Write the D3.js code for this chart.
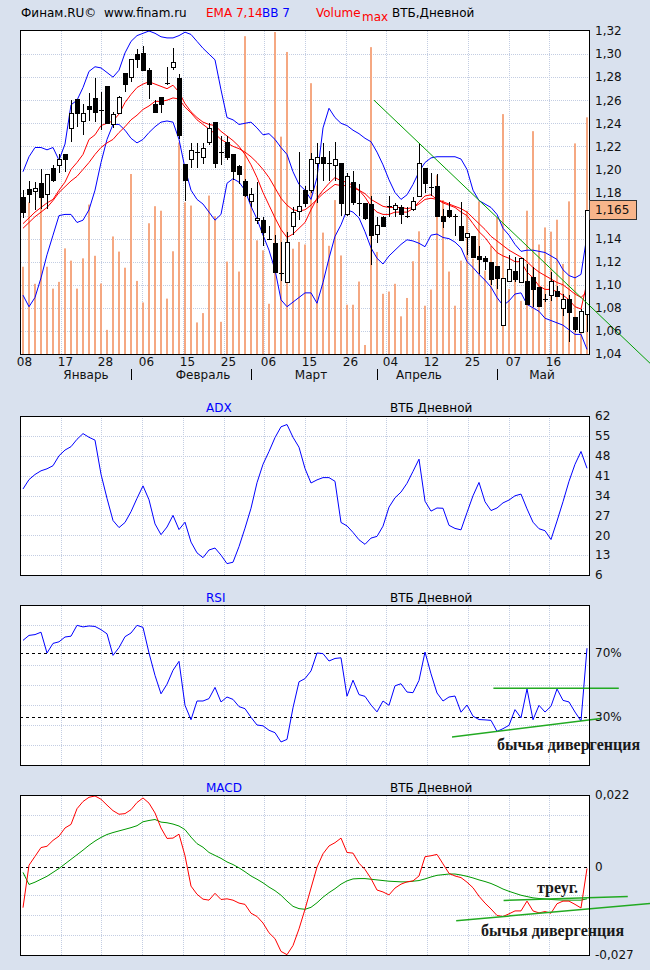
<!DOCTYPE html>
<html>
<head>
<meta charset="utf-8">
<script src="https://cdn.jsdelivr.net/npm/d3@7"></script>
<style>
	body { margin: 0; background: #d9e1ee; }
	svg { display: block; font-family: 'DejaVu Sans', Verdana, sans-serif; font-size: 12px; }
	.note { font-family: 'Liberation Serif', 'Times New Roman', serif; font-weight: bold; font-size: 16px; fill: #1a1a1a; }
</style>
</head>
<body>
<svg id="chart" width="650" height="970"></svg>
<script>

var opens = [ 1.176, 1.183, 1.181, 1.188, 1.179, 1.201, 1.204, 1.213, 1.236, 1.261, 1.242, 1.255, 1.262, 1.2525, 1.272, 1.239, 1.249, 1.284, 1.280, 1.300, 1.301, 1.286, 1.257, 1.263, 1.274, 1.289, 1.279, 1.205, 1.209, 1.2145, 1.211, 1.224, 1.241, 1.2145, 1.224, 1.213, 1.203, 1.190, 1.173, 1.156, 1.156, 1.1405, 1.136, 1.1115, 1.102, 1.151, 1.164, 1.182, 1.182, 1.206, 1.211, 1.2055, 1.204, 1.206, 1.161, 1.189, 1.171, 1.171, 1.170, 1.144, 1.159, 1.1685, 1.166, 1.167, 1.1605, 1.166, 1.177, 1.201, 1.1855, 1.186, 1.160, 1.165, 1.160, 1.151, 1.141, 1.142, 1.125, 1.1235, 1.120, 1.116, 1.065, 1.103, 1.112, 1.102, 1.103, 1.107, 1.098, 1.0875, 1.091, 1.095, 1.080, 1.0875, 1.072, 1.059, 1.075 ];
var highs = [ 1.182, 1.190, 1.189, 1.200, 1.196, 1.204, 1.213, 1.213, 1.260, 1.261, 1.257, 1.266, 1.279, 1.267, 1.272, 1.250, 1.264, 1.284, 1.296, 1.304, 1.307, 1.288, 1.260, 1.263, 1.289, 1.305, 1.283, 1.205, 1.223, 1.223, 1.223, 1.240, 1.241, 1.229, 1.229, 1.213, 1.204, 1.192, 1.184, 1.189, 1.159, 1.151, 1.143, 1.137, 1.146, 1.167, 1.215, 1.186, 1.214, 1.223, 1.223, 1.216, 1.224, 1.206, 1.197, 1.199, 1.187, 1.171, 1.177, 1.159, 1.160, 1.177, 1.171, 1.169, 1.167, 1.176, 1.223, 1.201, 1.197, 1.196, 1.166, 1.172, 1.161, 1.172, 1.145, 1.142, 1.134, 1.125, 1.120, 1.116, 1.106, 1.126, 1.124, 1.123, 1.118, 1.115, 1.098, 1.092, 1.111, 1.099, 1.092, 1.091, 1.072, 1.079, 1.165 ];
var lows = [ 1.158, 1.171, 1.165, 1.166, 1.166, 1.189, 1.197, 1.198, 1.224, 1.237, 1.230, 1.242, 1.241, 1.234, 1.239, 1.236, 1.248, 1.267, 1.276, 1.288, 1.286, 1.261, 1.249, 1.249, 1.273, 1.286, 1.226, 1.173, 1.201, 1.201, 1.205, 1.221, 1.201, 1.204, 1.208, 1.191, 1.187, 1.176, 1.167, 1.153, 1.134, 1.139, 1.111, 1.103, 1.102, 1.143, 1.156, 1.167, 1.180, 1.171, 1.190, 1.190, 1.190, 1.160, 1.160, 1.169, 1.160, 1.156, 1.117, 1.136, 1.150, 1.159, 1.159, 1.153, 1.158, 1.164, 1.177, 1.180, 1.177, 1.159, 1.149, 1.158, 1.142, 1.139, 1.126, 1.124, 1.109, 1.113, 1.100, 1.096, 1.065, 1.103, 1.102, 1.102, 1.083, 1.081, 1.081, 1.085, 1.086, 1.089, 1.073, 1.050, 1.059, 1.059, 1.059 ];
var closes = [ 1.163, 1.179, 1.184, 1.176, 1.196, 1.191, 1.209, 1.209, 1.249, 1.249, 1.249, 1.252, 1.250, 1.2515, 1.240, 1.248, 1.263, 1.274, 1.296, 1.296, 1.286, 1.274, 1.250, 1.257, 1.2745, 1.293, 1.230, 1.191, 1.217, 1.215, 1.219, 1.236, 1.206, 1.215, 1.211, 1.199, 1.196, 1.178, 1.179, 1.158, 1.146, 1.1395, 1.111, 1.1105, 1.137, 1.163, 1.168, 1.171, 1.209, 1.211, 1.206, 1.2055, 1.209, 1.171, 1.194, 1.172, 1.1705, 1.158, 1.143, 1.152, 1.151, 1.168, 1.169, 1.161, 1.1595, 1.173, 1.206, 1.188, 1.1845, 1.160, 1.155, 1.160, 1.1595, 1.139, 1.145, 1.124, 1.122, 1.1205, 1.105, 1.106, 1.106, 1.114, 1.105, 1.123, 1.083, 1.096, 1.082, 1.0875, 1.103, 1.0905, 1.0875, 1.076, 1.062, 1.077, 1.165 ];
var volumes = [ 27.1, 47.1, 21.8, 48.7, 27.1, 20.3, 22.4, 32.8, 29.0, 20.3, 29.7, 46.4, 30.5, 21.9, 7.5, 36.5, 31.8, 26.8, 55.9, 22.7, 16.0, 40.6, 45.9, 44.5, 17.2, 31.9, 65.7, 47.1, 46.1, 9.8, 12.7, 49.2, 42.8, 10.0, 28.7, 54.0, 25.6, 98.7, 48.8, 35.3, 32.2, 15.6, 100, 67.5, 93.8, 32.7, 34.8, 34.0, 84.1, 52.3, 37.7, 33.6, 47.8, 30.6, 15.3, 15.3, 22.5, 2.8, 95.3, 31.7, 18.7, 19.4, 21.8, 11.7, 17.4, 28.8, 38.1, 15.0, 20.0, 55.5, 47.8, 25.6, 15.0, 29.0, 44.5, 29.6, 47.4, 25.9, 33.6, 42.4, 74.5, 20.2, 25.5, 16.5, 44.5, 69.2, 34.0, 39.3, 38.0, 41.7, 28.0, 47.4, 65.4, 10.3, 73.5 ];

var emaFast = [ 1.153, 1.158, 1.163, 1.167, 1.171, 1.174, 1.182, 1.189, 1.200, 1.206, 1.213, 1.226, 1.230, 1.238, 1.240, 1.242, 1.248, 1.258, 1.265, 1.271, 1.274, 1.276, 1.274, 1.272, 1.270, 1.273, 1.267, 1.257, 1.250, 1.245, 1.241, 1.239, 1.238, 1.233, 1.229, 1.225, 1.220, 1.213, 1.204, 1.193, 1.180, 1.169, 1.158, 1.148, 1.141, 1.144, 1.149, 1.154, 1.165, 1.175, 1.182, 1.188, 1.193, 1.190, 1.189, 1.186, 1.182, 1.176, 1.168, 1.163, 1.161, 1.161, 1.163, 1.163, 1.163, 1.166, 1.172, 1.177, 1.178, 1.174, 1.171, 1.169, 1.167, 1.163, 1.160, 1.153, 1.146, 1.141, 1.134, 1.128, 1.125, 1.123, 1.120, 1.120, 1.111, 1.106, 1.099, 1.096, 1.096, 1.094, 1.091, 1.087, 1.081, 1.079, 1.102 ];
var emaSlow = [ 1.149, 1.154, 1.159, 1.163, 1.167, 1.173, 1.180, 1.185, 1.190, 1.194, 1.200, 1.206, 1.213, 1.219, 1.223, 1.226, 1.232, 1.237, 1.243, 1.247, 1.252, 1.255, 1.259, 1.259, 1.260, 1.262, 1.261, 1.254, 1.249, 1.243, 1.239, 1.235, 1.231, 1.226, 1.223, 1.220, 1.218, 1.215, 1.211, 1.206, 1.200, 1.193, 1.184, 1.175, 1.169, 1.165, 1.164, 1.165, 1.169, 1.174, 1.179, 1.183, 1.187, 1.186, 1.186, 1.184, 1.182, 1.179, 1.174, 1.171, 1.168, 1.167, 1.167, 1.167, 1.166, 1.167, 1.170, 1.174, 1.175, 1.174, 1.172, 1.170, 1.168, 1.166, 1.163, 1.158, 1.153, 1.148, 1.142, 1.138, 1.134, 1.130, 1.127, 1.124, 1.120, 1.115, 1.111, 1.108, 1.105, 1.102, 1.100, 1.096, 1.092, 1.089, 1.094 ];
var bbUpper = [ 1.198, 1.211, 1.219, 1.219, 1.217, 1.219, 1.208, 1.222, 1.256, 1.260, 1.271, 1.285, 1.289, 1.288, 1.284, 1.280, 1.286, 1.301, 1.311, 1.316, 1.318, 1.320, 1.318, 1.315, 1.314, 1.314, 1.316, 1.319, 1.317, 1.311, 1.305, 1.300, 1.295, 1.269, 1.245, 1.243, 1.239, 1.240, 1.241, 1.236, 1.230, 1.231, 1.226, 1.219, 1.213, 1.198, 1.187, 1.182, 1.174, 1.193, 1.236, 1.253, 1.245, 1.240, 1.238, 1.234, 1.231, 1.227, 1.224, 1.215, 1.204, 1.191, 1.180, 1.174, 1.178, 1.187, 1.198, 1.206, 1.210, 1.211, 1.211, 1.211, 1.211, 1.209, 1.200, 1.182, 1.173, 1.170, 1.167, 1.161, 1.149, 1.143, 1.135, 1.129, 1.130, 1.130, 1.129, 1.128, 1.125, 1.122, 1.113, 1.108, 1.106, 1.109, 1.143 ];
var bbLower = [ 1.091, 1.081, 1.089, 1.106, 1.126, 1.143, 1.160, 1.161, 1.161, 1.154, 1.156, 1.165, 1.182, 1.206, 1.226, 1.239, 1.239, 1.234, 1.227, 1.223, 1.226, 1.232, 1.237, 1.241, 1.242, 1.241, 1.226, 1.201, 1.182, 1.174, 1.170, 1.163, 1.156, 1.161, 1.188, 1.192, 1.189, 1.182, 1.168, 1.157, 1.143, 1.130, 1.113, 1.087, 1.081, 1.085, 1.089, 1.093, 1.093, 1.084, 1.102, 1.123, 1.142, 1.152, 1.165, 1.163, 1.158, 1.146, 1.132, 1.123, 1.118, 1.125, 1.130, 1.135, 1.139, 1.138, 1.136, 1.133, 1.143, 1.144, 1.141, 1.140, 1.137, 1.132, 1.120, 1.115, 1.109, 1.104, 1.098, 1.089, 1.082, 1.086, 1.092, 1.093, 1.083, 1.080, 1.077, 1.071, 1.069, 1.067, 1.065, 1.061, 1.057, 1.057, 1.044 ];

var adx = [ 36.3, 39.6, 41.4, 42.7, 43.4, 44.5, 48, 50, 51.2, 53.8, 55.8, 54.5, 53.5, 41.5, 33, 25.2, 22.7, 24.5, 28.3, 33, 37.4, 32.5, 24, 20.2, 22.9, 27, 22, 24.6, 17.6, 13.8, 12.1, 14.8, 15.5, 13, 10, 10.5, 16, 22.5, 29.5, 38.5, 45, 49.5, 54.4, 58.2, 59, 54.5, 51, 43.5, 38.4, 39.5, 40.3, 40.3, 39, 24.5, 23.3, 21, 18.4, 16.8, 19, 19.6, 23.2, 29.9, 33.2, 35.2, 38.3, 42.5, 46.8, 32, 28.5, 29.6, 29.5, 23.5, 22.4, 21.9, 28, 33.9, 38.6, 31.8, 28.7, 29.6, 31.4, 32.4, 33.9, 34.5, 29.3, 24.6, 22.3, 21.6, 18.5, 25, 31.8, 39, 45, 49.5, 43.6 ];
var rsi = [ 77.9, 81, 81.5, 83, 70, 76, 77, 80, 80.5, 87.3, 86.3, 86.9, 86.6, 84.6, 82, 68.5, 73.4, 80.2, 82.5, 87.3, 86, 70, 56, 44.5, 50.5, 59.2, 64.8, 37.3, 28.3, 40, 40, 41.5, 48.5, 39.4, 42.5, 41, 36.5, 35.2, 29.8, 25, 24.5, 21.7, 20.2, 14.4, 16, 35.8, 52, 54, 58.8, 70, 69.6, 65, 66.6, 67, 43, 53, 44, 42.9, 37.5, 33.2, 40, 37.3, 49.5, 50.8, 45.6, 45.2, 52.9, 70.6, 57, 45, 40, 42.5, 43.1, 33, 37.5, 30.5, 28.4, 28.2, 27.9, 21, 22.7, 24.8, 34.6, 29.5, 47.5, 28.3, 37.3, 33.1, 36.7, 47.5, 40.4, 39.4, 33.1, 27.5, 73 ];
var macd = [ -0.0125, 0.0005, 0.0032, 0.0059, 0.0063, 0.0081, 0.0094, 0.0119, 0.0130, 0.0178, 0.0200, 0.0213, 0.0217, 0.0207, 0.0189, 0.0172, 0.0161, 0.0163, 0.0175, 0.0197, 0.0211, 0.0195, 0.0165, 0.0119, 0.0087, 0.0088, 0.0100, 0.0034, -0.0059, -0.0084, -0.0099, -0.0102, -0.0081, -0.0100, -0.0098, -0.0102, -0.0111, -0.0115, -0.0142, -0.0152, -0.0172, -0.0202, -0.0220, -0.0259, -0.0269, -0.0241, -0.0190, -0.0130, -0.0065, -0.0001, 0.0040, 0.0064, 0.0074, 0.0088, 0.0044, 0.0042, 0.0011, -0.0008, -0.0036, -0.0071, -0.0077, -0.0086, -0.0065, -0.0053, -0.0046, -0.0043, -0.0028, 0.0031, 0.0034, 0.0038, 0.0009, -0.0020, -0.0028, -0.0033, -0.0047, -0.0064, -0.0090, -0.0111, -0.0129, -0.0149, -0.0152, -0.0144, -0.0135, -0.0135, -0.0105, -0.0135, -0.0141, -0.0137, -0.0142, -0.0113, -0.0105, -0.0105, -0.0115, -0.0126, -0.0005 ];
var macdSignal = [ -0.0017, -0.0054, -0.0047, -0.0038, -0.0029, -0.0017, -0.0005, 0.0009, 0.0023, 0.0037, 0.0051, 0.0066, 0.0079, 0.0090, 0.0099, 0.0105, 0.0110, 0.0115, 0.0120, 0.0126, 0.0138, 0.0142, 0.0145, 0.0137, 0.0135, 0.0131, 0.0125, 0.0114, 0.0091, 0.0071, 0.0060, 0.0044, 0.0035, 0.0026, 0.0015, 0.0007, -0.0003, -0.0015, -0.0028, -0.0038, -0.0049, -0.0062, -0.0073, -0.0087, -0.0105, -0.0121, -0.0128, -0.0130, -0.0124, -0.0110, -0.0093, -0.0079, -0.0067, -0.0053, -0.0043, -0.0037, -0.0036, -0.0036, -0.0038, -0.0040, -0.0042, -0.0044, -0.0045, -0.0046, -0.0046, -0.0044, -0.0042, -0.0037, -0.0031, -0.0026, -0.0024, -0.0022, -0.0022, -0.0025, -0.0029, -0.0034, -0.0040, -0.0045, -0.0051, -0.0059, -0.0068, -0.0075, -0.0081, -0.0087, -0.0091, -0.0095, -0.0097, -0.0098, -0.0100, -0.0101, -0.0102, -0.0102, -0.0102, -0.0102, -0.0098 ];

var dateLabels = [ '08', '17', '28', '06', '15', '25', '06', '15', '26', '04', '12', '25', '07', '16' ];
var monthNames = [ 'Январь', 'Февраль', 'Март', 'Апрель', 'Май' ];
var monthCenters = [ 10.5, 30, 48, 66, 86.5 ];
var monthStarts = [ 18, 38, 59, 79 ];
var priceTicks = [ 1.04, 1.06, 1.08, 1.10, 1.12, 1.14, 1.16, 1.18, 1.20, 1.22, 1.24, 1.26, 1.28, 1.30, 1.32 ];
var adxTicks = [ 6, 13, 20, 27, 34, 41, 48, 55, 62 ];
var rsiLevels = [ 30, 70 ];
var macdTicks = [ -0.027, 0, 0.022 ];
var lastPrice = 1.165;

// hand drawn lines: [bar index, value]
var priceTrend = [ [ 58.5, 1.260 ], [ 104.5, 1.032 ] ];
var rsiMarks = [ [ [ 78.4, 48 ], [ 99.3, 48 ] ], [ [ 71.5, 17.5 ], [ 96.3, 29 ] ] ];
var macdMarks = [ [ [ 80.1, -0.0103 ], [ 100.8, -0.0091 ] ], [ [ 72.2, -0.0165 ], [ 104.5, -0.0112 ] ] ];

var svg = d3.select( '#chart' );
var left = 20;
var right = 590;
var width = right - left;
var n = closes.length;

var x = d3.scaleLinear().domain( [ -0.5, n - 0.5 ] ).range( [ left, right ] );
var gridX = d3.scaleLinear().domain( [ 0, 14 ] ).range( [ left, right ] ).interpolate( d3.interpolateRound );

var comma = function ( f ) {
	return function ( d ) { return d3.format( f )( d ).replace( '.', ',' ).replace( '\u2212', '-' ); };
};

var background = function ( top, bottom ) {
	svg.append( 'rect' )
		.attr( 'x', left ).attr( 'y', top )
		.attr( 'width', width ).attr( 'height', bottom - top )
		.attr( 'fill', '#fff' );
};

var grid = function ( top, bottom, y, values ) {
	var g = svg.append( 'g' );
	g.append( 'g' )
		.attr( 'transform', 'translate(0,' + bottom + ')' )
		.call( d3.axisBottom( gridX ).tickValues( d3.range( 1, 14 ) ).tickSize( -( bottom - top ) ).tickFormat( '' ) );
	g.append( 'g' )
		.attr( 'transform', 'translate(' + right + ',0)' )
		.call( d3.axisRight( y.copy().interpolate( d3.interpolateRound ) ).tickValues( values ).tickSize( -width ).tickFormat( '' ) );
	g.selectAll( '.domain' ).remove();
	g.selectAll( 'line' ).attr( 'stroke', '#c3cde2' ).attr( 'stroke-dasharray', '1,1' );
};

var frame = function ( top, bottom ) {
	svg.append( 'rect' )
		.attr( 'x', left + 0.5 ).attr( 'y', top + 0.5 )
		.attr( 'width', width - 1 ).attr( 'height', bottom - top )
		.attr( 'fill', 'none' ).attr( 'stroke', '#000' );
};

var labels = function ( y, values, format ) {
	var g = svg.append( 'g' )
		.attr( 'transform', 'translate(' + right + ',0)' )
		.call( d3.axisRight( y ).tickValues( values ).tickSize( 0 ).tickPadding( 5 ).tickFormat( format ) );
	g.select( '.domain' ).remove();
	g.attr( 'font-family', null ).attr( 'font-size', null );
	g.selectAll( 'text' ).attr( 'fill', '#111' );
	return g;
};

var title = function ( name, baseline ) {
	svg.append( 'text' ).attr( 'x', 206 ).attr( 'y', baseline ).attr( 'fill', '#0000ff' ).text( name );
	svg.append( 'text' ).attr( 'x', 390 ).attr( 'y', baseline ).attr( 'fill', '#000' ).text( 'ВТБ Дневной' );
};

var series = function ( values, y, color ) {
	var line = d3.line()
		.x( function ( d, i ) { return x( i ); } )
		.y( function ( d ) { return y( d ); } );
	svg.append( 'path' )
		.datum( values )
		.attr( 'd', line )
		.attr( 'fill', 'none' )
		.attr( 'stroke', color )
		.attr( 'stroke-width', 1 );
};

var marks = function ( list, y, color, w ) {
	list.forEach( function ( seg ) {
		svg.append( 'line' )
			.attr( 'x1', x( seg[0][0] ) ).attr( 'y1', y( seg[0][1] ) )
			.attr( 'x2', x( seg[1][0] ) ).attr( 'y2', y( seg[1][1] ) )
			.attr( 'stroke', color ).attr( 'stroke-width', w );
	} );
};

// header
var header = [
	{ t: 'Финам.RU©', x: 21, y: 17, c: '#000' },
	{ t: 'www.finam.ru', x: 104, y: 17, c: '#000' },
	{ t: 'EMA 7,14', x: 206, y: 17, c: '#ff0000' },
	{ t: 'BB 7', x: 262, y: 17, c: '#0000ff' },
	{ t: 'Volume', x: 316, y: 17, c: '#ff0000' },
	{ t: 'max', x: 362, y: 21, c: '#ff0000' },
	{ t: 'ВТБ,Дневной', x: 392, y: 17, c: '#000' }
];
svg.selectAll( 'text.header' )
	.data( header )
	.enter()
	.append( 'text' )
	.classed( 'header', true )
	.attr( 'x', function ( d ) { return d.x; } )
	.attr( 'y', function ( d ) { return d.y; } )
	.attr( 'fill', function ( d ) { return d.c; } )
	.text( function ( d ) { return d.t; } );

// price panel
var pTop = 30, pBottom = 354;
var y = d3.scaleLinear().domain( [ 1.04, 1.32 ] ).range( [ 354, 31 ] );
var yVol = d3.scaleLinear().domain( [ 0, d3.max( volumes ) ] ).range( [ 354, 32 ] );

background( pTop, pBottom );
grid( pTop, pBottom, y, priceTicks.slice( 1, -1 ) );

svg.append( 'g' ).selectAll( 'rect' )
	.data( volumes )
	.enter()
	.append( 'rect' )
	.attr( 'x', function ( d, i ) { return x( i ) - 1; } )
	.attr( 'y', function ( d ) { return yVol( d ); } )
	.attr( 'width', 2 )
	.attr( 'height', function ( d ) { return yVol( 0 ) - yVol( d ); } )
	.attr( 'fill', '#f5a882' );

series( bbUpper, y, '#0000ff' );
series( bbLower, y, '#0000ff' );
series( emaSlow, y, '#ff0000' );
series( emaFast, y, '#ff0000' );

var candles = svg.append( 'g' ).selectAll( 'g' )
	.data( d3.range( n ) )
	.enter()
	.append( 'g' );

candles.append( 'line' )
	.attr( 'x1', function ( i ) { return x( i ) + 0.5; } )
	.attr( 'x2', function ( i ) { return x( i ) + 0.5; } )
	.attr( 'y1', function ( i ) { return Math.round( y( highs[i] ) ); } )
	.attr( 'y2', function ( i ) { return Math.round( y( lows[i] ) ); } )
	.attr( 'stroke', '#000' );

candles.filter( function ( i ) { return Math.abs( opens[i] - closes[i] ) < 0.0015; } )
	.append( 'line' )
	.attr( 'x1', function ( i ) { return x( i ) - 2; } )
	.attr( 'x2', function ( i ) { return x( i ) + 3; } )
	.attr( 'y1', function ( i ) { return Math.round( y( closes[i] ) ) + 0.5; } )
	.attr( 'y2', function ( i ) { return Math.round( y( closes[i] ) ) + 0.5; } )
	.attr( 'stroke', '#000' );

candles.filter( function ( i ) { return Math.abs( opens[i] - closes[i] ) >= 0.0015; } )
	.append( 'rect' )
	.attr( 'x', function ( i ) { return x( i ) - 1.5; } )
	.attr( 'y', function ( i ) { return Math.round( y( Math.max( opens[i], closes[i] ) ) ) + 0.5; } )
	.attr( 'width', 4 )
	.attr( 'height', function ( i ) {
		return Math.max( 1, Math.round( y( Math.min( opens[i], closes[i] ) ) ) - Math.round( y( Math.max( opens[i], closes[i] ) ) ) );
	} )
	.attr( 'fill', function ( i ) { return closes[i] >= opens[i] ? '#fff' : '#000'; } )
	.attr( 'stroke', '#000' );

marks( [ priceTrend ], y, '#00a000', 1 );
frame( pTop, pBottom );

// the last price box hides the tick label underneath it
labels( y, priceTicks.filter( function ( v ) { return Math.abs( v - lastPrice ) > 0.012; } ), comma( '.2f' ) );

svg.append( 'rect' )
	.attr( 'x', right - 0.5 ).attr( 'y', Math.round( y( lastPrice ) ) - 9.5 )
	.attr( 'width', 47 ).attr( 'height', 19 )
	.attr( 'fill', '#f8b58b' ).attr( 'stroke', '#333' );
svg.append( 'text' )
	.attr( 'x', right + 5 ).attr( 'y', y( lastPrice ) + 4.5 )
	.attr( 'fill', '#111' )
	.text( comma( '.3f' )( lastPrice ) );

// date axis
var xAxis = svg.append( 'g' )
	.attr( 'transform', 'translate(4,' + pBottom + ')' )
	.call( d3.axisBottom( gridX ).tickValues( d3.range( 0, 14 ) ).tickSize( 0 ).tickPadding( 3 ).tickFormat( function ( d ) { return dateLabels[d]; } ) );
xAxis.select( '.domain' ).remove();
xAxis.attr( 'font-family', null ).attr( 'font-size', null );
xAxis.selectAll( 'text' ).attr( 'fill', '#111' );

svg.selectAll( 'text.month' )
	.data( monthNames )
	.enter()
	.append( 'text' )
	.classed( 'month', true )
	.attr( 'x', function ( d, i ) { return x( monthCenters[i] ); } )
	.attr( 'y', 379 )
	.attr( 'text-anchor', 'middle' )
	.attr( 'fill', '#111' )
	.text( function ( d ) { return d; } );

svg.selectAll( 'line.month' )
	.data( monthStarts )
	.enter()
	.append( 'line' )
	.classed( 'month', true )
	.attr( 'x1', function ( d ) { return x( d ) + 0.5; } )
	.attr( 'x2', function ( d ) { return x( d ) + 0.5; } )
	.attr( 'y1', 369 ).attr( 'y2', 380 )
	.attr( 'stroke', '#000' );

// ADX
var aTop = 416, aBottom = 575;
var yAdx = d3.scaleLinear().domain( [ 6, 62 ] ).range( [ aBottom, aTop ] );
title( 'ADX', 412 );
background( aTop, aBottom );
grid( aTop, aBottom, yAdx, adxTicks.slice( 1, -1 ) );
series( adx, yAdx, '#0000ff' );
frame( aTop, aBottom );
labels( yAdx, adxTicks, d3.format( 'd' ) );

// RSI
var rTop = 605, rBottom = 765;
var yRsi = d3.scaleLinear().domain( [ 0, 100 ] ).range( [ rBottom, rTop ] );
title( 'RSI', 602 );
background( rTop, rBottom );
grid( rTop, rBottom, yRsi, d3.range( 1, 8 ).map( function ( k ) { return k * 12.5; } ) );
rsiLevels.forEach( function ( v ) {
	svg.append( 'line' )
		.attr( 'x1', left ).attr( 'x2', right )
		.attr( 'y1', Math.round( yRsi( v ) ) + 0.5 ).attr( 'y2', Math.round( yRsi( v ) ) + 0.5 )
		.attr( 'stroke', '#000' ).attr( 'stroke-dasharray', '3,3' );
} );
series( rsi, yRsi, '#0000ff' );
marks( rsiMarks, yRsi, '#22aa22', 1.5 );
frame( rTop, rBottom );
labels( yRsi, rsiLevels, function ( d ) { return d + '%'; } );
svg.append( 'text' ).attr( 'class', 'note' ).attr( 'x', 497 ).attr( 'y', 750 ).text( 'бычья дивергенция' );

// MACD
var mTop = 795, mBottom = 955;
var yMacd = d3.scaleLinear().domain( [ -0.027, 0.022 ] ).range( [ mBottom, mTop ] );
title( 'MACD', 792 );
background( mTop, mBottom );
grid( mTop, mBottom, yMacd, d3.range( 1, 8 ).map( function ( k ) { return -0.027 + k * 0.049 / 8; } ) );
svg.append( 'line' )
	.attr( 'x1', left ).attr( 'x2', right )
	.attr( 'y1', Math.round( yMacd( 0 ) ) + 0.5 ).attr( 'y2', Math.round( yMacd( 0 ) ) + 0.5 )
	.attr( 'stroke', '#000' ).attr( 'stroke-dasharray', '3,3' );
series( macdSignal, yMacd, '#009900' );
series( macd, yMacd, '#ff0000' );
marks( macdMarks, yMacd, '#22aa22', 1.5 );
frame( mTop, mBottom );
labels( yMacd, macdTicks, function ( d ) { return d === 0 ? '0' : comma( '.3f' )( d ); } );
svg.append( 'text' ).attr( 'class', 'note' ).attr( 'x', 537 ).attr( 'y', 893 ).text( 'треуг.' );
svg.append( 'text' ).attr( 'class', 'note' ).attr( 'x', 481 ).attr( 'y', 936 ).text( 'бычья дивергенция' );

</script>
</body>
</html>
